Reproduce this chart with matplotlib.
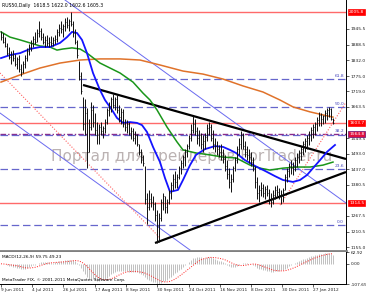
import matplotlib
matplotlib.use("Agg")
import matplotlib.pyplot as plt
import matplotlib.transforms as mtrans
import numpy as np
import pandas as pd

# ---------------- data ----------------
high = [1940, 1930, 1915, 1895, 1880, 1865, 1870, 1855, 1845, 1850,
        1820, 1830, 1850, 1875, 1890, 1905, 1920, 1935, 1945, 1975,
        1950, 1930, 1920, 1925, 1915, 1920, 1915, 1925, 1945, 1965,
        1975, 1965, 1985, 1990, 1980, 2005.8, 1975, 1945, 1905, 1830,
        1790, 1700, 1690, 1660, 1620, 1680, 1670, 1640, 1610, 1600,
        1610, 1595, 1620, 1660, 1680, 1700, 1710, 1700, 1705, 1670,
        1660, 1655, 1620, 1615, 1610, 1590, 1585, 1575, 1565, 1530,
        1510, 1490, 1450, 1350, 1360, 1350, 1340, 1320, 1290, 1280,
        1330, 1350, 1340, 1330, 1360, 1390, 1420, 1430, 1420, 1450,
        1470, 1490, 1510, 1530, 1560, 1600, 1630, 1620, 1590, 1580,
        1570, 1560, 1570, 1600, 1610, 1600, 1580, 1550, 1540, 1525,
        1530, 1510, 1490, 1470, 1440, 1420, 1450, 1480, 1520, 1550,
        1575, 1570, 1540, 1520, 1510, 1500, 1480, 1450, 1410, 1380,
        1390, 1385, 1375, 1380, 1365, 1350, 1360, 1375, 1380, 1370,
        1360, 1370, 1420, 1440, 1460, 1470, 1465, 1480, 1495, 1505,
        1520, 1540, 1550, 1560, 1575, 1590, 1600, 1610, 1625, 1645,
        1640, 1635, 1650, 1658, 1662, 1660, 1622.0]
low = [1905, 1895, 1880, 1850, 1835, 1820, 1830, 1810, 1800, 1790,
       1775, 1785, 1805, 1830, 1850, 1865, 1880, 1890, 1900, 1915,
       1905, 1890, 1880, 1885, 1880, 1885, 1885, 1890, 1900, 1920,
       1930, 1915, 1940, 1950, 1940, 1955, 1915, 1890, 1840, 1760,
       1710, 1580, 1560, 1440, 1500, 1580, 1590, 1560, 1530, 1530,
       1560, 1550, 1570, 1600, 1630, 1645, 1660, 1650, 1640, 1610,
       1600, 1590, 1575, 1570, 1560, 1545, 1540, 1530, 1520, 1490,
       1460, 1450, 1310, 1240, 1290, 1300, 1290, 1250, 1168, 1175,
       1250, 1290, 1280, 1280, 1310, 1330, 1360, 1370, 1370, 1400,
       1420, 1440, 1450, 1480, 1510, 1540, 1570, 1560, 1530, 1520,
       1510, 1500, 1510, 1540, 1560, 1540, 1510, 1500, 1490, 1480,
       1470, 1460, 1430, 1400, 1370, 1355, 1390, 1430, 1460, 1490,
       1510, 1510, 1480, 1470, 1460, 1450, 1430, 1370, 1330, 1320,
       1340, 1335, 1330, 1340, 1310, 1300, 1310, 1330, 1340, 1330,
       1310, 1320, 1360, 1390, 1410, 1420, 1415, 1430, 1445, 1460,
       1470, 1490, 1500, 1510, 1525, 1540, 1550, 1560, 1575, 1595,
       1595, 1600, 1605, 1615, 1625, 1615, 1602.6]
close = [1915, 1900, 1885, 1860, 1845, 1850, 1840, 1820, 1835, 1800,
         1790, 1820, 1840, 1865, 1880, 1895, 1910, 1900, 1930, 1940,
         1915, 1900, 1905, 1895, 1900, 1895, 1905, 1910, 1935, 1950,
         1945, 1955, 1970, 1960, 1975, 1965, 1930, 1900, 1850, 1775,
         1720, 1600, 1640, 1500, 1590, 1650, 1610, 1580, 1560, 1590,
         1575, 1585, 1610, 1650, 1665, 1690, 1670, 1690, 1650, 1625,
         1645, 1600, 1590, 1600, 1570, 1575, 1550, 1560, 1530, 1500,
         1480, 1460, 1330, 1300, 1330, 1320, 1310, 1270, 1230, 1260,
         1320, 1340, 1300, 1320, 1350, 1380, 1400, 1390, 1410, 1440,
         1460, 1480, 1500, 1520, 1550, 1580, 1600, 1575, 1550, 1560,
         1530, 1540, 1555, 1585, 1590, 1550, 1530, 1520, 1510, 1500,
         1490, 1475, 1450, 1420, 1390, 1400, 1440, 1470, 1510, 1530,
         1560, 1520, 1500, 1490, 1480, 1465, 1440, 1390, 1350, 1360,
         1370, 1350, 1365, 1350, 1330, 1320, 1345, 1360, 1355, 1345,
         1340, 1360, 1410, 1430, 1450, 1440, 1450, 1470, 1480, 1495,
         1510, 1530, 1540, 1550, 1565, 1580, 1590, 1600, 1615, 1635,
         1620, 1630, 1640, 1650, 1655, 1620, 1605.3]

# moving averages read at sample bars
blue_idx = [0, 4.5, 9.5, 14.5, 19.5, 24.5, 29.5, 33, 35.5, 38, 40.5, 43, 46,
            49.5, 52, 55.5, 58, 61, 64.5, 68, 70.5, 73, 76, 79.5, 82, 84.5,
            88.5, 91, 94.5, 97.5, 102, 107, 111, 114.5, 117.5, 122, 127, 132,
            137, 141, 146, 149.5, 153, 156, 159.5, 163, 167]
blue_val = [1840, 1851, 1858, 1873, 1880, 1880, 1895, 1916, 1935, 1931, 1906,
            1858, 1786, 1724, 1688, 1652, 1623, 1605, 1608, 1605, 1597, 1572,
            1518, 1463, 1405, 1355, 1362, 1398, 1452, 1489, 1510, 1521, 1518,
            1507, 1496, 1470, 1449, 1431, 1412, 1398, 1391, 1398, 1416, 1441,
            1470, 1500, 1525]
green_idx = [0, 4.5, 9.5, 14.5, 19.5, 24.5, 28, 31, 35.5, 39.5, 43, 49.5,
             54.5, 59.5, 66, 71, 74.5, 78, 83, 88, 91, 97.5, 104.5, 111,
             117.5, 124.5, 129.5, 134.5, 141, 147.5, 154.5, 161, 166]
green_val = [1935, 1916, 1906, 1895, 1884, 1880, 1869, 1873, 1877, 1873,
             1858, 1822, 1804, 1786, 1753, 1713, 1688, 1652, 1590, 1536,
             1507, 1496, 1489, 1481, 1478, 1452, 1441, 1434, 1441, 1445,
             1445, 1452, 1463]
orange_idx = [0, 9.5, 19.5, 29.5, 39.5, 49.5, 59.5, 69.5, 79.5, 91, 101,
              111, 121, 131, 139.5, 146, 154.5, 161, 166]
orange_val = [1753, 1779, 1804, 1822, 1833, 1837, 1837, 1833, 1815, 1793,
              1782, 1764, 1739, 1717, 1688, 1663, 1645, 1634, 1626]

# horizontal levels
red_levels = [2005.8, 1603.7, 1314.5]
purple_level = 1564.8
fib_low, fib_high = 1235.0, 2091.0
fib_ratios = [0.0, 0.236, 0.382, 0.5, 0.618]
fib_texts = ["0.0", "23.6", "38.2", "50.0", "61.8"]

# drawn trend lines: (bar indices, prices)
channel_upper = ([32, 172.5], [2050.6, 1314.6])
channel_lower = ([-0.5, 94.5], [1640.9, 1144.2])
pink_down = ([-0.5, 79.5], [1786.0, 1188.0])
pink_up = ([139.5, 172.5], [1307.0, 1680.0])
black_upper = ([41, 172.5], [1742.5, 1474.1])
black_lower = ([77, 172.5], [1169.6, 1427.0])

price_ticks = [1155.0, 1210.5, 1267.5, 1380.5, 1437.0, 1493.0, 1549.5,
               1663.5, 1719.0, 1775.0, 1832.0, 1888.5, 1945.5]
date_labels = ["9 Jun 2011", "4 Jul 2011", "26 Jul 2011", "17 Aug 2011",
               "8 Sep 2011", "30 Sep 2011", "24 Oct 2011", "16 Nov 2011",
               "8 Dec 2011", "30 Dec 2011", "27 Jan 2012"]
date_pos = [0, 15.5, 31, 47, 62.5, 78, 94, 109.5, 125, 140.5, 156]
macd_ticks = [62.92, 0.0, -107.65]
macd_tick_labels = ["62.92", "0.00", "-107.65"]

header = "RUS50,Daily  1618.5 1622.0 1602.6 1605.3"
macd_title = "MACD(12,26,9) 59.75 49.23"
copyright_text = "MetaTrader FIX, \u00a9 2001-2011 MetaQuotes Software Corp."
watermark = "Портал для трейдеров ForTrader.ru"

# ---------------- figure ----------------
plt.rcParams['font.family'] = ['DejaVu Sans']
W, H = 366, 293
fig = plt.figure(figsize=(W / 100, H / 100), dpi=100)
fig.patch.set_facecolor('white')

ax = fig.add_axes([0.0, (H - 251) / H, 346 / W, 251 / H])
ax2 = fig.add_axes([0.0, (H - 284) / H, 346 / W, 32 / H])

n = len(close)
x = np.arange(n)
XMIN, XMAX = -0.5, 172.5
ax.set_xlim(XMIN, XMAX)
ax.set_ylim(1140.6, 2050.6)

# watermark
ax.text(192 / 346, 1 - 157 / 251, watermark, transform=ax.transAxes,
        ha='center', va='center', fontsize=11, color='#b4aaaa', alpha=0.9,
        zorder=0.5)

# horizontal levels
for lv in red_levels:
    ax.axhline(lv, color='#ff6a6a', lw=1.0, zorder=1)
ax.axhline(purple_level, color='#8a2a8a', lw=1.0, ls=(0, (4, 1.5, 1, 1.5)), zorder=1)
for r, t in zip(fib_ratios, fib_texts):
    lv = fib_low + r * (fib_high - fib_low)
    ax.axhline(lv, color='#6666cc', lw=0.9, ls=(0, (6, 3)), zorder=1)
    ax.text(171.5, lv + 5, t, ha='right', va='bottom', fontsize=3.2,
            color='#4444bb', zorder=5)

# trend lines
for ln in (channel_upper, channel_lower):
    ax.plot(ln[0], ln[1], color='#6a6af0', lw=0.7, zorder=2)
for ln in (pink_down, pink_up):
    ax.plot(ln[0], ln[1], color='#ff6060', lw=0.8, ls=(0, (1, 1.5)), zorder=2)
for ln in (black_upper, black_lower):
    ax.plot(ln[0], ln[1], color='black', lw=1.6, zorder=3, solid_capstyle='butt')

# moving averages
ax.plot(orange_idx, orange_val, color='#e0722a', lw=1.1, zorder=3)
ax.plot(green_idx, green_val, color='#1a961a', lw=1.1, zorder=3)
ax.plot(blue_idx, blue_val, color='#1414ff', lw=1.3, zorder=3)

# price bars
ax.vlines(x, low, high, color='#101010', lw=0.7, zorder=4)
ax.hlines(close, x, x + 0.5, color='#101010', lw=0.5, zorder=4)

# axes styling
for s in ('top', 'left'):
    ax.spines[s].set_visible(False)
ax.spines['right'].set_color('black')
ax.spines['right'].set_linewidth(0.7)
ax.spines['bottom'].set_color('#808080')
ax.spines['bottom'].set_linewidth(2.0)
ax.set_xticks([])
ax.yaxis.tick_right()
ax.set_yticks(price_ticks)
ax.set_yticklabels([f"{v:.1f}" for v in price_ticks])
ax.tick_params(axis='y', length=2, width=0.5, pad=1.2, labelsize=3.2,
               colors='#202020')

# label boxes on price axis
bt = mtrans.blended_transform_factory(ax.transAxes, ax.transData)
for lv in red_levels:
    ax.text(1.009, lv, f"{lv:.1f}", transform=bt, ha='left', va='center',
            fontsize=3.2, color='white', clip_on=False, zorder=10,
            bbox=dict(boxstyle='square,pad=0.25', fc='#ff0000', ec='#ff0000', lw=0.5))
ax.text(1.009, purple_level, f"{purple_level:.1f}", transform=bt, ha='left',
        va='center', fontsize=3.2, color='white', clip_on=False, zorder=10,
        bbox=dict(boxstyle='square,pad=0.25', fc='#e01040', ec='#7a207a', lw=0.6))

ax.text(2 / 346, 1 - 5 / 251, header, transform=ax.transAxes, ha='left',
        va='center', fontsize=3.3, color='black', zorder=10)

# ---------------- MACD ----------------
cs = pd.Series(close, dtype=float)
ema12 = cs.ewm(span=12, adjust=False).mean()
ema26 = cs.ewm(span=26, adjust=False).mean()
macd = ema12 - ema26
signal = macd.rolling(9, min_periods=1).mean()

ax2.set_xlim(XMIN, XMAX)
ax2.set_ylim(macd_ticks[-1], macd_ticks[0])
ax2.vlines(x, 0, macd.values, color='#c0c0c0', lw=0.7, zorder=2)
ax2.plot(x, signal.values, color='#ff2020', lw=0.7, ls=(0, (1, 1.5)), zorder=3)

for s in ('top', 'left'):
    ax2.spines[s].set_visible(False)
ax2.spines['right'].set_linewidth(0.7)
ax2.spines['bottom'].set_linewidth(0.7)
ax2.yaxis.tick_right()
ax2.set_yticks(macd_ticks)
ax2.set_yticklabels(macd_tick_labels)
ax2.tick_params(axis='y', length=2, width=0.5, pad=1.2, labelsize=3.2,
                colors='#202020')
ax2.set_xticks(date_pos)
ax2.set_xticklabels(date_labels)
ax2.tick_params(axis='x', length=2, width=0.5, pad=1.0, labelsize=3.1,
                colors='#202020')
for lbl in ax2.get_xticklabels():
    lbl.set_horizontalalignment('left')

ax2.text(2 / 346, (284 - 257) / 32, macd_title, transform=ax2.transAxes,
         ha='left', va='center', fontsize=3.1, color='black', zorder=10)
ax2.text(2 / 346, (284 - 280) / 32, copyright_text, transform=ax2.transAxes,
         ha='left', va='center', fontsize=3.1, color='black', zorder=10)

fig.savefig("out.png", dpi=100, facecolor='white')
